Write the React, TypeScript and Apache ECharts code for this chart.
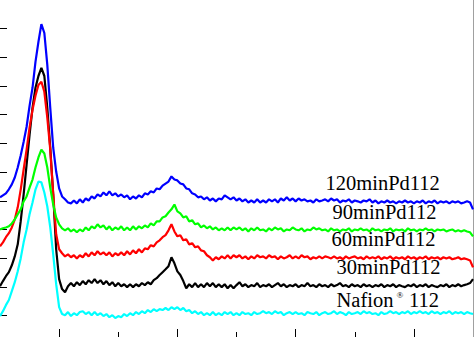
import React, { useEffect, useRef } from "react";
import * as echarts from "echarts";

// XRD scan: 2θ from 5° to 45°, step 0.25°
const twoThetaStart = 5;
const twoThetaStep = 0.25;

const nafion112 = [
  -2, 15, 36, 54, 85, 116, 154, 199, 255, 300,
  353, 394, 439, 467, 464, 429, 380, 307, 213, 109,
  29, 5, 1, 12, -2, 8, 1, 12, 15, 5,
  12, 1, 12, 1, 8, -2, 5, -6, 1, -9,
  -2, -6, 5, -2, 8, 1, 12, 5, 15, 8,
  19, 12, 22, 15, 22, 19, 26, 19, 29, 22,
  29, 19, 26, 15, 19, 8, 15, 5, 12, 1,
  8, 1, 12, 1, 8, 1, 12, 5, 12, 1,
  8, 1, 12, 5, 8, 1, 12, 5, 8, 15,
  8, 12, 5, 15, 8, 12, 1, 8, 12, 5,
  12, 5, 8, 1, 12, 8, 5, 12, 1, 8,
  12, 5, 8, 15, 5, 12, 8, 1, 12, 5,
  8, 12, 5, 15, 8, 12, 5, 8, 1, 12,
  5, 8, 15, 8, 12, 5, 12, 8, 15, 5,
  12, 8, 15, 8, 12, 5, 15, 8, 12, 5,
  12, 8, 15, 5, 12, 8, 12, 5, 12, 8,
  5,
];

const pd30 = [
  102, 120, 137, 151, 175, 206, 248, 328, 422, 526,
  630, 724, 794, 835, 863, 835, 724, 585, 422, 231,
  127, 92, 81, 102, 113, 102, 116, 106, 120, 109,
  123, 113, 127, 113, 123, 109, 120, 106, 116, 102,
  113, 102, 109, 99, 109, 99, 109, 102, 113, 106,
  116, 109, 123, 130, 141, 151, 161, 172, 203, 182,
  154, 141, 120, 95, 109, 99, 113, 99, 109, 99,
  113, 102, 113, 99, 109, 99, 109, 95, 106, 95,
  106, 116, 102, 109, 99, 106, 102, 113, 99, 106,
  102, 109, 99, 106, 113, 102, 109, 99, 106, 102,
  109, 99, 106, 102, 113, 102, 106, 99, 109, 102,
  106, 99, 109, 102, 106, 113, 102, 106, 99, 109,
  102, 106, 99, 109, 102, 106, 99, 106, 102, 109,
  99, 106, 102, 109, 99, 106, 102, 99, 106, 102,
  109, 99, 106, 102, 109, 99, 106, 102, 99, 106,
  102, 109, 99, 106, 102, 109, 102, 106, 109, 113,
  127,
];

const pd60 = [
  241, 255, 273, 287, 307, 335, 377, 439, 509, 578,
  655, 717, 766, 804, 815, 780, 690, 578, 422, 283,
  231, 217, 206, 213, 203, 210, 199, 210, 203, 217,
  206, 220, 210, 224, 213, 220, 210, 220, 206, 217,
  210, 220, 210, 224, 213, 227, 217, 231, 220, 234,
  231, 245, 241, 255, 262, 273, 280, 297, 318, 293,
  276, 280, 262, 266, 248, 252, 238, 241, 227, 224,
  210, 203, 192, 203, 196, 206, 199, 210, 199, 210,
  203, 210, 199, 206, 196, 206, 199, 210, 203, 206,
  199, 210, 203, 206, 196, 206, 199, 203, 210, 199,
  206, 199, 210, 203, 206, 196, 203, 199, 206, 199,
  206, 203, 199, 206, 199, 203, 196, 206, 199, 203,
  206, 199, 203, 196, 206, 199, 203, 199, 206, 196,
  203, 199, 206, 196, 203, 199, 203, 196, 206, 199,
  203, 196, 203, 199, 206, 196, 203, 199, 203, 196,
  203, 199, 203, 196, 199, 203, 196, 199, 196, 192,
  168,
];

const pd90 = [
  300, 304, 307, 311, 321, 335, 353, 370, 398, 415,
  446, 474, 516, 551, 578, 565, 516, 446, 387, 342,
  318, 304, 297, 304, 293, 300, 290, 300, 293, 307,
  297, 311, 304, 318, 307, 314, 300, 311, 297, 307,
  300, 311, 297, 307, 297, 311, 300, 311, 304, 314,
  307, 321, 314, 328, 328, 342, 346, 359, 370, 387,
  363, 356, 342, 346, 328, 332, 318, 321, 307, 314,
  304, 311, 300, 307, 297, 304, 297, 307, 297, 307,
  300, 307, 297, 304, 293, 304, 297, 307, 297, 300,
  293, 304, 297, 307, 300, 304, 293, 300, 297, 307,
  300, 297, 304, 293, 300, 297, 307, 300, 304, 297,
  300, 293, 304, 297, 300, 293, 300, 297, 304, 293,
  300, 297, 304, 297, 300, 293, 304, 297, 300, 293,
  300, 297, 304, 293, 300, 297, 300, 293, 304, 297,
  300, 293, 300, 297, 304, 297, 300, 293, 300, 297,
  300, 293, 297, 300, 293, 297, 293, 297, 293, 290,
  276,
];

const pd120 = [
  412, 419, 426, 440, 457, 481, 516, 558, 606, 658,
  731, 794, 884, 954, 1016, 985, 874, 724, 585, 502,
  443, 415, 405, 394, 391, 401, 391, 405, 394, 408,
  401, 415, 408, 422, 415, 429, 419, 433, 419, 426,
  415, 422, 412, 419, 405, 415, 408, 419, 412, 426,
  422, 433, 429, 443, 440, 453, 460, 467, 485, 474,
  471, 460, 457, 443, 440, 426, 422, 412, 415, 405,
  412, 401, 408, 398, 408, 405, 419, 412, 405, 412,
  401, 408, 398, 405, 394, 401, 394, 405, 394, 401,
  394, 405, 398, 405, 394, 408, 401, 412, 401, 408,
  398, 408, 401, 405, 398, 401, 394, 405, 398, 401,
  405, 398, 408, 401, 405, 394, 401, 398, 405, 394,
  401, 398, 394, 401, 398, 405, 394, 401, 391, 398,
  394, 401, 394, 398, 391, 398, 394, 401, 394, 398,
  391, 398, 394, 401, 391, 398, 394, 401, 391, 398,
  394, 398, 391, 398, 394, 398, 391, 394, 398, 394,
  370,
];

const seriesNames = ["Nafion® 112", "30minPd112", "60minPd112", "90minPd112", "120minPd112"];
const seriesValues = [nafion112, pd30, pd60, pd90, pd120];
const seriesColors = ["#00ffff", "#000000", "#ff0000", "#00ff00", "#0000ff"];

const xMin = 5;
const xMax = 45;
const xMajorTicks = [10, 20, 30, 40];
const xMinorTicks = [15, 25, 35];
const yMin = -75;
const yMax = 1100;
const yTicks = [0, 100, 200, 300, 400, 500, 600, 700, 800, 900, 1000];

const SERIF = '"Liberation Serif", "Times New Roman", serif';

export default function App() {
  const ref = useRef<HTMLDivElement>(null);

  useEffect(() => {
    if (!ref.current) return;
    const chart = echarts.init(ref.current, undefined, { renderer: "svg" });

    const series = seriesValues.map((vals, s) => ({
      name: seriesNames[s],
      type: "line",
      xAxisIndex: 0,
      yAxisIndex: 0,
      showSymbol: false,
      symbol: "none",
      clip: true,
      lineStyle: { color: seriesColors[s], width: 2.2 },
      itemStyle: { color: seriesColors[s] },
      data: vals.map((v, i) => [twoThetaStart + i * twoThetaStep, v]),
      z: 2 + s,
    }));

    const labelFont = `20.5px ${SERIF}`;
    const txt = (text: string, x: number, y: number, font = labelFont, align = "left") => ({
      type: "text",
      x,
      y,
      z: 100,
      style: {
        text,
        font,
        fill: "#000",
        align,
        verticalAlign: "middle",
        textAlign: align,
        textVerticalAlign: "middle",
      },
    });

    const xAxisBase = {
      type: "value",
      min: xMin,
      max: xMax,
      position: "bottom",
      axisLine: { show: false, onZero: false },
      axisLabel: { show: false },
      splitLine: { show: false },
    };

    chart.setOption({
      animation: false,
      backgroundColor: "#ffffff",
      grid: { left: 0, right: 1, top: 0, bottom: -1, containLabel: false },
      xAxis: [
        {
          ...xAxisBase,
          axisTick: {
            show: true,
            inside: true,
            length: 5,
            customValues: xMinorTicks,
            lineStyle: { color: "#000", width: 1 },
          },
        },
        {
          ...xAxisBase,
          axisTick: {
            show: true,
            inside: true,
            length: 8,
            customValues: xMajorTicks,
            lineStyle: { color: "#000", width: 1 },
          },
        },
      ],
      yAxis: [
        {
          type: "value",
          min: yMin,
          max: yMax,
          position: "left",
          axisLine: { show: false, onZero: false },
          axisLabel: { show: false },
          splitLine: { show: false },
          axisTick: {
            show: true,
            inside: true,
            length: 7,
            customValues: yTicks,
            lineStyle: { color: "#000", width: 1 },
          },
        },
        {
          type: "value",
          min: yMin,
          max: yMax,
          position: "right",
          axisLine: { show: true, onZero: false, lineStyle: { color: "#a0a0a0", width: 1 } },
          axisLabel: { show: false },
          axisTick: { show: false },
          splitLine: { show: false },
        },
      ],
      series,
      graphic: [
        txt(seriesNames[4], 325.5, 182.8),
        txt(seriesNames[3], 332.5, 212),
        txt(seriesNames[2], 331.5, 239.3),
        txt(seriesNames[1], 336.5, 267.2),
        txt("Nafion", 336.5, 300),
        txt("®", 400, 294.5, `9px ${SERIF}`, "center"),
        txt("112", 409, 300),
      ],
    });

    return () => chart.dispose();
  }, []);

  return (
    <div
      ref={ref}
      style={{ position: "absolute", left: 0, top: 0, width: 474, height: 337, background: "#fff" }}
    />
  );
}
